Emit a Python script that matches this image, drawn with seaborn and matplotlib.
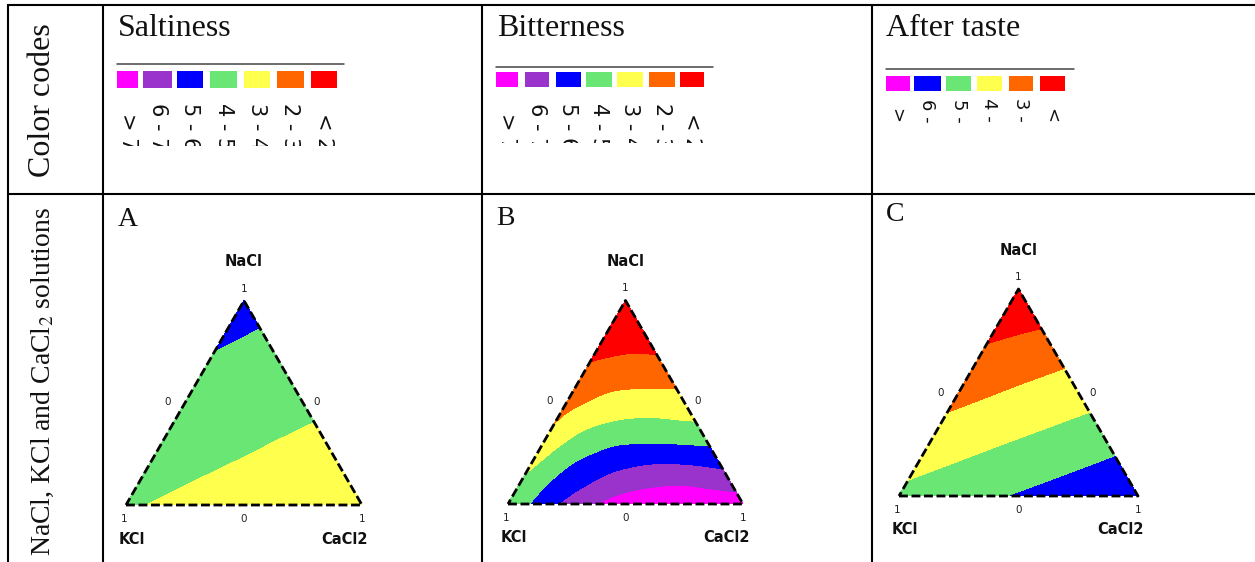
import numpy as np
import matplotlib
matplotlib.use("Agg")
import matplotlib.pyplot as plt
import matplotlib.tri as mtri
from matplotlib.patches import Rectangle
import seaborn as sns

# ---------------- data ----------------
row_headers = ["Color codes", "NaCl, KCl and CaCl$_2$ solutions"]
taste_titles = ["Saltiness", "Bitterness", "After taste"]
panel_letters = ["A", "B", "C"]
components = ["NaCl", "KCl", "CaCl2"]
corner_ticks = ["1", "0"]

# colour classes, listed from highest to lowest score
colors_7 = ["#FF00FF", "#9933CC", "#0000FF", "#6AE675", "#FFFF4D", "#FF6600", "#FF0000"]
labels_7 = ["> 7", "6 - 7", "5 - 6", "4 - 5", "3 - 4", "2 - 3", "< 2"]
bounds_7 = [2, 3, 4, 5, 6, 7]
colors_6 = ["#FF00FF", "#0000FF", "#6AE675", "#FFFF4D", "#FF6600", "#FF0000"]
labels_6 = ["> 7", "6 - 7", "5 - 6", "4 - 5", "3 - 4", "< 3"]
bounds_6 = [3, 4, 5, 6, 7]

# mixture grids: each row is one NaCl fraction, CaCl2 fraction steps along the row
# (KCl makes up the rest)
nacl_coarse = [0.0, 0.2, 0.4, 0.6, 0.8, 1.0]
nacl_fine = [0.0, 0.1, 0.2, 0.3, 0.4, 0.5, 0.6, 0.7, 0.8, 0.9, 1.0]
step_coarse = 0.2
step_fine = 0.1

saltiness = [
    [4.07, 3.88, 3.68, 3.49, 3.29, 3.10],
    [4.31, 4.12, 3.93, 3.73, 3.54],
    [4.56, 4.36, 4.17, 3.98],
    [4.80, 4.61, 4.41],
    [5.05, 4.85],
    [5.29],
]
bitterness = [
    [4.45, 5.00, 5.83, 6.46, 7.05, 7.40, 7.74, 7.79, 7.72, 7.60, 7.46],
    [4.12, 4.79, 5.47, 5.97, 6.44, 6.69, 6.84, 6.87, 6.73, 6.59],
    [3.73, 4.46, 5.07, 5.44, 5.74, 5.91, 5.93, 5.85, 5.71],
    [3.32, 4.02, 4.53, 4.84, 4.93, 4.94, 4.88, 4.81],
    [2.93, 3.56, 3.91, 4.10, 4.15, 4.08, 4.01],
    [2.60, 3.02, 3.33, 3.41, 3.41, 3.37],
    [2.28, 2.58, 2.74, 2.78, 2.75],
    [1.96, 2.11, 2.22, 2.15],
    [1.64, 1.63, 1.55],
    [1.32, 1.15],
    [1.00],
]
after_taste = [
    [5.21, 5.55, 5.89, 6.22, 6.56, 6.90],
    [4.60, 4.94, 5.28, 5.61, 5.95],
    [3.99, 4.33, 4.67, 5.00],
    [3.38, 3.72, 4.06],
    [2.77, 3.02],
    [2.16],
]

panel_values = [saltiness, bitterness, after_taste]
panel_nacl = [nacl_coarse, nacl_fine, nacl_coarse]
panel_step = [step_coarse, step_fine, step_coarse]
panel_colors = [colors_7, colors_7, colors_6]
panel_labels = [labels_7, labels_7, labels_6]
panel_bounds = [bounds_7, bounds_7, bounds_6]

# ---------------- layout (pixels) ----------------
W, H = 1255, 562
col_x = [8, 103, 482, 872]
row_y = [5, 194]
title_x = [118, 497, 886]
letter_pos = [(118, 226), (496, 225), (886, 221)]
tri_geom = [(126, 505, 236), (508, 504, 235), (899, 496, 239)]  # (left x, base y, side)
legend_line = [(117, 344, 64), (496, 713, 67), (886, 1074, 69)]
legend_sq_y = [(71, 88), (72, 87), (76, 91)]
legend_sq_x = [
    [(117, 138), (143, 172), (177, 203), (210, 237), (244, 270), (277, 304), (311, 337)],
    [(496, 518), (525, 549), (556, 581), (586, 612), (617, 643), (649, 675), (680, 704)],
    [(886, 910), (914, 941), (946, 971), (977, 1002), (1009, 1033), (1040, 1065)],
]
# (label end y, clip bottom y, font size)
legend_label_geom = [(150.5, 146, 15), (150, 143, 15), (139.5, 125, 13)]

sns.set_theme(style="white")
plt.rcParams["font.family"] = ["DejaVu Sans"]
plt.rcParams["mathtext.fontset"] = "stix"
SERIF = ["Liberation Serif", "DejaVu Serif"]

fig = plt.figure(figsize=(W / 100, H / 100), dpi=100)
fig.patch.set_facecolor("white")

SQ3 = np.sqrt(3) / 2

# ---------------- ternary panels ----------------
for i in range(3):
    bx, by, S = tri_geom[i]
    xl, yl = (-0.15, 1.15), (-0.22, 1.08)
    left = bx + xl[0] * S
    width = (xl[1] - xl[0]) * S
    bottom_px = by - yl[0] * S
    height = (yl[1] - yl[0]) * S
    ax = fig.add_axes([left / W, (H - bottom_px) / H, width / W, height / H])
    ax.set_xlim(xl)
    ax.set_ylim(yl)
    ax.axis("off")
    ax.patch.set_visible(False)

    xs, ys, zs = [], [], []
    for r, n in enumerate(panel_nacl[i]):
        for j, v in enumerate(panel_values[i][r]):
            c = j * panel_step[i]
            xs.append(c + 0.5 * n)
            ys.append(n * SQ3)
            zs.append(v)
    xs, ys, zs = np.array(xs), np.array(ys), np.array(zs)
    tri = mtri.Triangulation(xs, ys)
    interp = mtri.CubicTriInterpolator(tri, zs, kind="min_E")
    refiner = mtri.UniformTriRefiner(tri)
    tri_f, z_f = refiner.refine_field(zs, triinterpolator=interp, subdiv=4)
    pal = sns.color_palette(panel_colors[i])
    levels = [-100] + panel_bounds[i] + [100]
    ax.tricontourf(tri_f, z_f, levels=levels, colors=list(reversed(pal)), antialiased=False)

    ax.plot([0, 1, 0.5, 0], [0, 0, SQ3, 0], color="black", lw=2.0,
            dashes=(3.2, 1.3), dash_capstyle="butt", solid_joinstyle="miter")

    # labels
    ax.text(0.5, SQ3 + 39 / S, components[0], ha="center", va="center",
            fontsize=10.5, fontweight="bold", color="#111")
    ax.text(0.5, SQ3 + 12 / S, corner_ticks[0], ha="center", va="center", fontsize=7.5, color="#222")
    ax.text(42 / S, 103 / S, corner_ticks[1], ha="center", va="center", fontsize=7.5, color="#222")
    ax.text(1 - 45 / S, 103 / S, corner_ticks[1], ha="center", va="center", fontsize=7.5, color="#222")
    ax.text(-2 / S, -14 / S, corner_ticks[0], ha="center", va="center", fontsize=7.5, color="#222")
    ax.text(0.5, -14 / S, corner_ticks[1], ha="center", va="center", fontsize=7.5, color="#222")
    ax.text(1.0, -14 / S, corner_ticks[0], ha="center", va="center", fontsize=7.5, color="#222")
    ax.text(6 / S, -34 / S, components[1], ha="center", va="center",
            fontsize=10.5, fontweight="bold", color="#111")
    ax.text(1 - 17 / S, -34 / S, components[2], ha="center", va="center",
            fontsize=10.5, fontweight="bold", color="#111")

# ---------------- table overlay ----------------
ov = fig.add_axes([0, 0, 1, 1])
ov.set_xlim(0, W)
ov.set_ylim(H, 0)
ov.axis("off")
ov.patch.set_visible(False)
ov.set_zorder(10)

for yy in row_y:
    ov.plot([col_x[0] - 1, W], [yy, yy], color="black", lw=1.5, solid_capstyle="butt")
for xx in col_x:
    ov.plot([xx, xx], [row_y[0] - 1, H], color="black", lw=1.5, solid_capstyle="butt")

ov.text(43, 100, row_headers[0], rotation=90, ha="center", va="center",
        fontsize=23, family=SERIF, color="#111")
ov.text(43, 381, row_headers[1], rotation=90, ha="center", va="center",
        fontsize=20, family=SERIF, color="#111")

for i in range(3):
    ov.text(title_x[i], 36, taste_titles[i], ha="left", va="baseline",
            fontsize=23, family=SERIF, color="#111")
    lx, ly = letter_pos[i]
    ov.text(lx, ly, panel_letters[i], ha="left", va="baseline",
            fontsize=20, family=SERIF, color="#111")

    x0, x1, yline = legend_line[i]
    ov.plot([x0, x1], [yline, yline], color="#444444", lw=1.1)
    sy0, sy1 = legend_sq_y[i]
    lab_end, clip_y, lab_fs = legend_label_geom[i]
    for k, (col, lab) in enumerate(zip(panel_colors[i], panel_labels[i])):
        qx0, qx1 = legend_sq_x[i][k]
        ov.add_patch(Rectangle((qx0, sy0), qx1 - qx0, sy1 - sy0,
                               facecolor=col, edgecolor="none"))
        clip = Rectangle((qx0 - 8, sy1 + 2), qx1 - qx0 + 16, clip_y - sy1 - 2,
                         transform=ov.transData, facecolor="none", edgecolor="none")
        t = ov.text((qx0 + qx1) / 2, lab_end, lab, rotation=-90, ha="center", va="bottom",
                    fontsize=lab_fs, color="#111")
        t.set_clip_on(True)
        t.set_clip_path(clip)

fig.savefig("out.png", dpi=100, facecolor="white")
